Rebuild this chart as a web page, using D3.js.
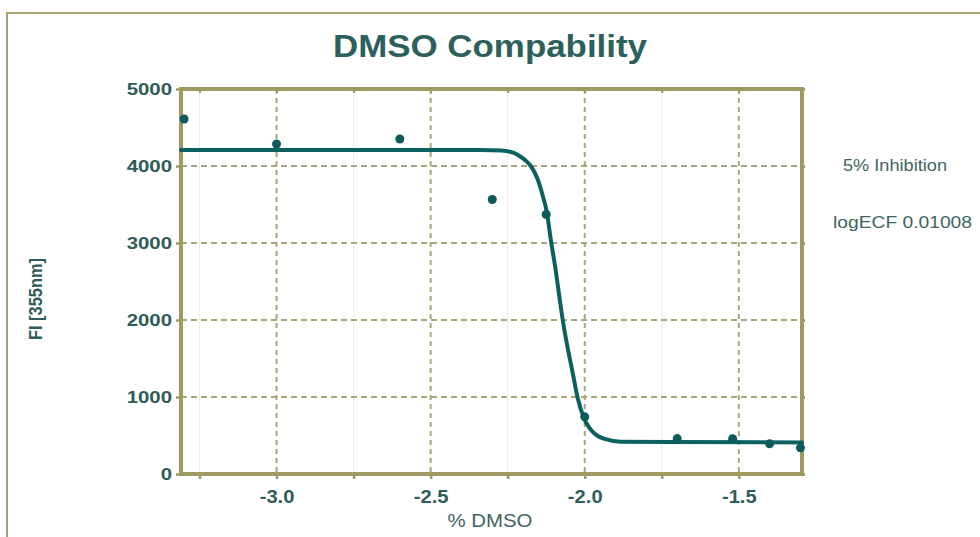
<!DOCTYPE html>
<html>
<head>
<meta charset="utf-8">
<script src="https://cdn.jsdelivr.net/npm/d3@7"></script>
<style>
  html, body { margin: 0; padding: 0; background: #ffffff; }
  svg { display: block; }
  text { font-family: "Liberation Sans", Arial, sans-serif; }
</style>
</head>
<body>
<script>
// ---- data ----
const pointX = [-3.30, -3.00, -2.60, -2.30, -2.125, -2.00, -1.70, -1.52, -1.40, -1.30];
const pointY = [4610, 4285, 4350, 3565, 3370, 742, 460, 458, 392, 340];

const curveX = [-3.31, -2.34, -2.27, -2.23, -2.208, -2.19, -2.175, -2.153, -2.136, -2.123, -2.110, -2.094, -2.084, -2.071, -2.039, -2.023, -2.003, -1.985, -1.965, -1.938, -1.883, -1.72, -1.295];
const curveY = [4208, 4208, 4200, 4170, 4120, 4065, 4000, 3831, 3610, 3400, 3040, 2640, 2350, 1990, 1312, 990, 730, 600, 515, 458, 420, 414, 410];

const xMajorTicks = [-3.0, -2.5, -2.0, -1.5];
const xMinorTicks = [-3.25, -2.75, -2.25, -1.75];
const yTicks = [0, 1000, 2000, 3000, 4000, 5000];
const xDomain = [-3.31, -1.295];
const yDomain = [0, 5000];

const titleText = "DMSO Compability";
const xLabel = "% DMSO";
const yLabel = "FI [355nm]";
const notes = ["5% Inhibition", "logECF 0.01008"];

// ---- layout ----
const W = 980, H = 537;
const plot = { left: 181, right: 802, top: 89, bottom: 474 };
const olive = "#a09a62";
const gridCol = "#aaa57c";
const teal = "#0b6060";
const textCol = "#2f5c59";

const svg = d3.select("body").append("svg").attr("width", W).attr("height", H);

// outer frame
svg.append("rect").attr("x", 7).attr("y", 13).attr("width", 1000).attr("height", 600)
  .attr("fill", "none").attr("stroke", "#a8a272").attr("stroke-width", 2);

const x = d3.scaleLinear().domain(xDomain).range([plot.left, plot.right]);
const y = d3.scaleLinear().domain(yDomain).range([plot.bottom, plot.top]);

// minor vertical grid (light dotted)
svg.append("g").selectAll("line").data(xMinorTicks).join("line")
  .attr("x1", d => x(d)).attr("x2", d => x(d))
  .attr("y1", plot.top).attr("y2", plot.bottom)
  .attr("stroke", "#d9d9d6").attr("stroke-width", 1).attr("stroke-dasharray", "1,1");

// major vertical grid (dashed olive)
svg.append("g").selectAll("line").data(xMajorTicks).join("line")
  .attr("x1", d => x(d)).attr("x2", d => x(d))
  .attr("y1", plot.top).attr("y2", plot.bottom)
  .attr("stroke", gridCol).attr("stroke-width", 2).attr("stroke-dasharray", "5,4");

// horizontal grid
svg.append("g").selectAll("line").data(yTicks.filter(d => d > 0 && d < 5000)).join("line")
  .attr("x1", plot.left).attr("x2", plot.right)
  .attr("y1", d => y(d)).attr("y2", d => y(d))
  .attr("stroke", gridCol).attr("stroke-width", 2).attr("stroke-dasharray", "6,4");

// frame of the plot (top & right)
svg.append("line").attr("x1", plot.left).attr("x2", plot.right + 2)
  .attr("y1", plot.top).attr("y2", plot.top).attr("stroke", olive).attr("stroke-width", 4);
svg.append("line").attr("x1", plot.right).attr("x2", plot.right)
  .attr("y1", plot.top).attr("y2", plot.bottom).attr("stroke", olive).attr("stroke-width", 4);

// small tick marks on top/right frame
svg.append("g").attr("transform", `translate(0,${plot.top})`)
  .call(d3.axisBottom(x).tickValues(xMajorTicks.concat(xMinorTicks)).tickSize(4).tickFormat(""))
  .call(g => g.select(".domain").remove())
  .call(g => g.selectAll("line").attr("stroke", olive).attr("stroke-width", 2));
svg.append("g").attr("transform", `translate(${plot.right},0)`)
  .call(d3.axisRight(y).tickValues(yTicks).tickSize(3).tickFormat(""))
  .call(g => g.select(".domain").remove())
  .call(g => g.selectAll("line").attr("stroke", olive).attr("stroke-width", 3));

// x axis
const xAxis = svg.append("g").attr("transform", `translate(0,${plot.bottom})`)
  .call(d3.axisBottom(x).tickValues(xMajorTicks.concat(xMinorTicks)).tickSize(5).tickPadding(11)
    .tickFormat(d => xMajorTicks.includes(d) ? d3.format(".1f")(d).replace("−", "-") : ""));
xAxis.select(".domain").attr("d", `M${plot.left - 2},0H${plot.right + 2}`).attr("stroke", olive).attr("stroke-width", 4);
xAxis.selectAll(".tick line").attr("stroke", olive).attr("stroke-width", 2.5);
xAxis.selectAll(".tick text")
  .attr("fill", textCol).attr("font-size", 18).attr("font-weight", "bold")
  .attr("font-family", "Liberation Sans, Arial, sans-serif")
  .attr("transform", "scale(1.12,1)");

// y axis
const yAxis = svg.append("g").attr("transform", `translate(${plot.left},0)`)
  .call(d3.axisLeft(y).tickValues(yTicks).tickSize(5).tickPadding(4).tickFormat(d3.format("d")));
yAxis.select(".domain").attr("d", `M0,${plot.top - 2}V${plot.bottom + 2}`).attr("stroke", olive).attr("stroke-width", 4);
yAxis.selectAll(".tick line").attr("stroke", olive).attr("stroke-width", 2.5);
yAxis.selectAll(".tick text")
  .attr("fill", textCol).attr("font-size", 17).attr("font-weight", "bold")
  .attr("font-family", "Liberation Sans, Arial, sans-serif")
  .attr("x", -9 / 1.2)
  .attr("transform", "scale(1.2,1)");

// fitted curve
const curvePts = curveX.map((d, i) => [d, curveY[i]]);
svg.append("path").datum(curvePts)
  .attr("d", d3.line().x(d => x(d[0])).y(d => y(d[1])).curve(d3.curveMonotoneX))
  .attr("fill", "none").attr("stroke", teal).attr("stroke-width", 4)
  .attr("stroke-linejoin", "round").attr("stroke-linecap", "round");

// data points
svg.append("g").selectAll("circle").data(pointX.map((d, i) => [d, pointY[i]])).join("circle")
  .attr("cx", d => x(d[0])).attr("cy", d => y(d[1])).attr("r", 4.5)
  .attr("fill", "#0d5a5a");

// title
svg.append("text").attr("x", 490).attr("y", 57).attr("text-anchor", "middle")
  .attr("font-size", 31).attr("font-weight", "bold").attr("fill", "#2c605c")
  .attr("textLength", 314).attr("lengthAdjust", "spacingAndGlyphs")
  .text(titleText);

// axis labels
svg.append("text").attr("x", 490).attr("y", 527).attr("text-anchor", "middle")
  .attr("font-size", 19).attr("fill", "#3d6462")
  .attr("textLength", 85).attr("lengthAdjust", "spacingAndGlyphs")
  .text(xLabel);
svg.append("text").attr("transform", "translate(42,299) rotate(-90)").attr("text-anchor", "middle")
  .attr("font-size", 19).attr("font-weight", "bold").attr("fill", "#2f5c59")
  .attr("textLength", 82).attr("lengthAdjust", "spacingAndGlyphs")
  .text(yLabel);

// annotations
svg.append("text").attr("x", 843).attr("y", 171).attr("font-size", 16).attr("fill", "#3d6462")
  .attr("textLength", 104).attr("lengthAdjust", "spacingAndGlyphs").text(notes[0]);
svg.append("text").attr("x", 833).attr("y", 228).attr("font-size", 16).attr("fill", "#3d6462")
  .attr("textLength", 139).attr("lengthAdjust", "spacingAndGlyphs").text(notes[1]);
</script>
</body>
</html>
